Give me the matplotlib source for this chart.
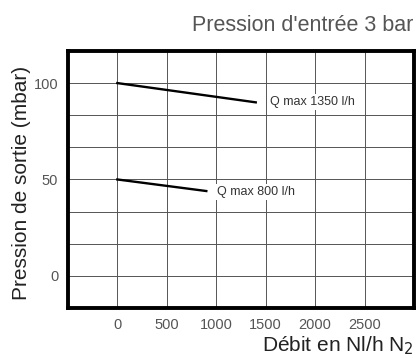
import numpy as np
import matplotlib.pyplot as plt

plt.rcParams['font.family'] = ['Liberation Sans', 'DejaVu Sans']

# curves (flow Nl/h, outlet pressure mbar)
q1350_x = [0, 1400]
q1350_y = [100, 90]
q800_x = [0, 900]
q800_y = [50, 44]

xticks = [0, 500, 1000, 1500, 2000, 2500]
yticks = [0, 50, 100]

fig = plt.figure(figsize=(4.19, 3.58), dpi=100)
ax = fig.add_axes([0.162, 0.1397, 0.826, 0.718])

ax.set_xlim(-500, 3000)
ax.set_ylim(-50 / 3, 350 / 3)

# grid every 500 in x, every 50/3 in y
for gx in np.arange(0, 3000, 500):
    ax.axvline(gx, color='#555555', lw=0.7, zorder=1)
for gy in np.arange(0, 350 / 3 - 1, 50 / 3):
    ax.axhline(gy, color='#555555', lw=0.7, zorder=1)

ax.plot(q1350_x, q1350_y, color='black', lw=1.7, zorder=3)
ax.plot(q800_x, q800_y, color='black', lw=1.7, zorder=3)

ax.text(1540, 90, 'Q max 1350 l/h', fontsize=9, color='#333333', va='center',
        ha='left', zorder=4, bbox=dict(facecolor='white', edgecolor='none', pad=1.5))
ax.text(1010, 43.5, 'Q max 800 l/h', fontsize=9, color='#333333', va='center',
        ha='left', zorder=4, bbox=dict(facecolor='white', edgecolor='none', pad=1.5))

ax.set_xticks(xticks)
ax.set_yticks(yticks)
ax.tick_params(length=0, labelsize=10.5, labelcolor='#555555', pad=7)

for s in ax.spines.values():
    s.set_linewidth(2.8)
    s.set_color('black')

fig.text(0.986, 0.93, "Pression d'entrée 3 bar", ha='right', va='center',
         fontsize=15.5, color='#555555')
fig.text(0.986, 0.035, 'Débit en Nl/h N$_2$', ha='right', va='center',
         fontsize=15, color='#222222')
fig.text(0.052, 0.49, 'Pression de sortie (mbar)', rotation=90, ha='center',
         va='center', fontsize=15, color='#222222')

fig.savefig('out.png', dpi=100)
